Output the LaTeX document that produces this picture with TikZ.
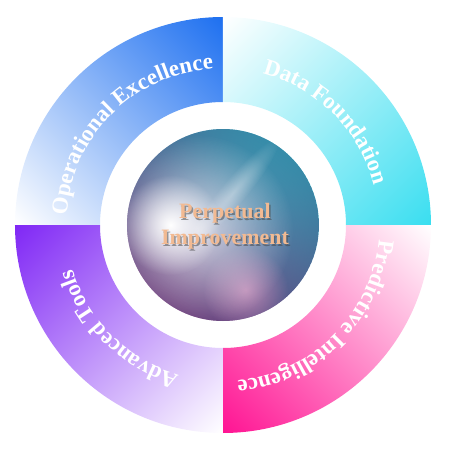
\documentclass[tikz,border=0pt]{standalone}
\usepackage{fontspec}
\setmainfont{Liberation Serif}
\usetikzlibrary{decorations.text,fadings}
\definecolor{opblue}{RGB}{30,112,240}
\definecolor{datacyan}{RGB}{58,222,240}
\definecolor{predpink}{RGB}{255,20,147}
\definecolor{toolpurple}{RGB}{128,40,245}
\definecolor{corepeach}{RGB}{242,186,146}
\definecolor{coreteal}{RGB}{56,186,202}
\definecolor{coreplum}{RGB}{140,60,128}
\definecolor{corerim}{RGB}{52,66,116}
\definecolor{coreglow}{RGB}{225,160,200}
\newcommand{\arcfont}{\fontsize{13}{15}\selectfont\bfseries}
\newcommand{\corefont}{\fontsize{12.5}{14.7}\selectfont\bfseries}
\tikzfading[name=glowfade, inner color=transparent!0, outer color=transparent!100]
\tikzfading[name=rimfade, inner color=transparent!100, outer color=transparent!62]
\tikzset{
  arclabel/.style={decorate, decoration={text along path, text align=center,
    text color=white, text={|\arcfont|#1}}},
}
\begin{document}
\begin{tikzpicture}
  \useasboundingbox (-4.46,-4.5) rectangle (4.54,4.5);
  % ring
  \begin{scope}
    \clip (90:4.16) arc (90:180:4.16) -- (180:2.46) arc (180:90:2.46) -- cycle;
    \shade[top color=opblue, middle color=opblue!58, bottom color=white, shading angle=-45]
      (-5.02,-0.86) rectangle (0.86,5.02);
  \end{scope}
  \begin{scope}
    \clip (0:4.16) arc (0:90:4.16) -- (90:2.46) arc (90:0:2.46) -- cycle;
    \shade[top color=datacyan, middle color=datacyan!58, bottom color=white, shading angle=-135]
      (-0.86,-0.86) rectangle (5.02,5.02);
  \end{scope}
  \begin{scope}
    \clip (-90:4.16) arc (-90:0:4.16) -- (0:2.46) arc (0:-90:2.46) -- cycle;
    \shade[top color=predpink, middle color=predpink!55, bottom color=white, shading angle=135]
      (-0.86,-5.02) rectangle (5.02,0.86);
  \end{scope}
  \begin{scope}
    \clip (180:4.16) arc (180:270:4.16) -- (270:2.46) arc (270:180:2.46) -- cycle;
    \shade[top color=toolpurple, middle color=toolpurple!58, bottom color=white, shading angle=45]
      (-5.02,-5.02) rectangle (0.86,0.86);
  \end{scope}
  % labels on the ring
  \path[arclabel={Operational Excellence}] (180:3.13) arc (180:90:3.13);
  \path[arclabel={Data Foundation}] (90:3.13) arc (90:0:3.13);
  \path[arclabel={Predictive Intelligence}] (0:3.13) arc (0:-90:3.13);
  \path[arclabel={Advanced Tools}] (-90:3.13) arc (-90:-180:3.13);
  % sphere
  \begin{scope}
    \clip (0,0) circle (1.92);
    \shade[top color=coreteal, bottom color=coreplum, shading angle=-35] (0,0) circle (1.92);
    \fill[corerim, path fading=rimfade] (0,0) circle (1.92);
    \fill[coreglow, opacity=0.7, path fading=glowfade] (0.45,-1.3) circle (0.85);
    \fill[white, opacity=0.7, path fading=glowfade] (-0.5,-0.1) circle (1.9);
    \fill[white, path fading=glowfade] (-1.05,0.0) circle (1.0);
    \begin{scope}[transform canvas={rotate around={50:(0.2,0.65)}}]
      \fill[white, opacity=0.35, path fading=glowfade] (0.2,0.65) ellipse [x radius=1.4, y radius=0.26];
    \end{scope}
  \end{scope}
  \node[text=black!75, opacity=0.5, align=center, font=\corefont] (coreshadow) at (0.07,-0.07) {Perpetual\\Improvement};
  \node[text=corepeach, align=center, font=\corefont] (core) at (0.04,-0.03) {Perpetual\\Improvement};
\end{tikzpicture}
\end{document}
